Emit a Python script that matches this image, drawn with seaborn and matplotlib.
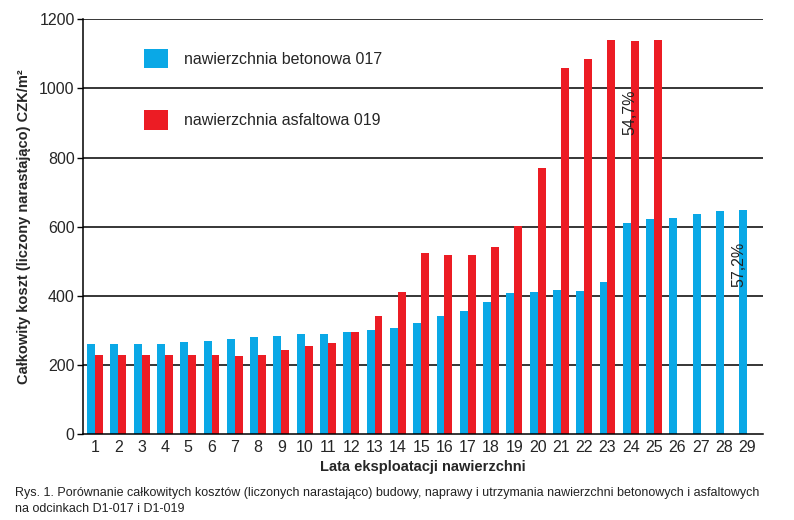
import matplotlib
matplotlib.use("Agg")
import matplotlib.pyplot as plt
import seaborn as sns
import pandas as pd
import numpy as np
from matplotlib.patches import Patch

years = [str(i) for i in range(1, 30)]
beton = [260, 260, 260, 260, 266, 268, 274, 280, 283, 289, 289, 294, 300, 308, 322,
         340, 356, 382, 407, 410, 416, 413, 441, 611, 622, 625, 637, 645, 648]
asfalt = [229, 229, 229, 229, 229, 229, 226, 229, 243, 254, 263, 294, 340, 410, 524,
          518, 518, 541, 603, 770, 1059, 1085, 1140, 1137, 1140, None, None, None, None]
series_names = ["nawierzchnia betonowa 017", "nawierzchnia asfaltowa 019"]
colors = ["#0AA8E6", "#EC1C24"]
yticks = [0, 200, 400, 600, 800, 1000, 1200]
caption = ("Rys. 1. Porównanie całkowitych kosztów (liczonych narastająco) budowy, naprawy i utrzymania "
           "nawierzchni betonowych i asfaltowych\nna odcinkach D1-017 i D1-019")

df = pd.DataFrame({
    "rok": years * 2,
    "koszt": beton + asfalt,
    "seria": [series_names[0]] * len(years) + [series_names[1]] * len(years),
})

sns.set_style("white")
plt.rcParams['font.family'] = ['Liberation Sans', 'DejaVu Sans']

fig = plt.figure(figsize=(7.94, 5.2), dpi=100)
ax = fig.add_axes([0.1045, 0.1654, 0.8565, 0.7975])

sns.barplot(data=df, x="rok", y="koszt", hue="seria", order=years,
            hue_order=series_names, palette=colors, width=0.68, gap=0,
            saturation=1, legend=False, ax=ax, zorder=3,
            edgecolor='none', linewidth=0)

ax.set_ylim(0, 1200)
ax.set_xlim(-0.52, 28.68)
ax.set_yticks(yticks)
ax.set_yticklabels([str(t) for t in yticks], fontsize=11.5)
ax.tick_params(axis='x', labelsize=11.5, length=0, pad=4)
ax.tick_params(axis='y', length=4, width=1, direction='out', pad=2, left=True, color='black')
for t in yticks[1:]:
    ax.axhline(t, color='black', lw=1.1, zorder=1)
sns.despine(ax=ax, top=True, right=True)
for s in ['left', 'bottom']:
    ax.spines[s].set_color('black')
    ax.spines[s].set_linewidth(1.1)
    ax.spines[s].set_zorder(6)

ax.set_xlabel("Lata eksploatacji nawierzchni", fontsize=10.5, fontweight='bold', labelpad=4)
ax.set_ylabel("Całkowity koszt (liczony narastająco) CZK/m²", fontsize=10.5,
              fontweight='bold', labelpad=6)

handles = [Patch(facecolor=c, edgecolor='none') for c in colors]
ax.legend(handles, series_names, loc='upper left', bbox_to_anchor=(0.068, 0.963),
          frameon=False, fontsize=11.5, handlelength=1.5, handleheight=1.5,
          labelspacing=2.6, handletextpad=1.0)

ax.text(22.95, 930, "54,7%", rotation=90, fontsize=11.5, ha='center', va='center',
        color='#222222', zorder=5)
ax.text(27.65, 490, "57,2%", rotation=90, fontsize=11.5, ha='center', va='center',
        color='#222222', zorder=5)

fig.text(0.019, 0.064, caption, fontsize=9.0, ha='left', va='top', linespacing=1.45,
         color='#222222')

fig.savefig("out.png", dpi=100)
